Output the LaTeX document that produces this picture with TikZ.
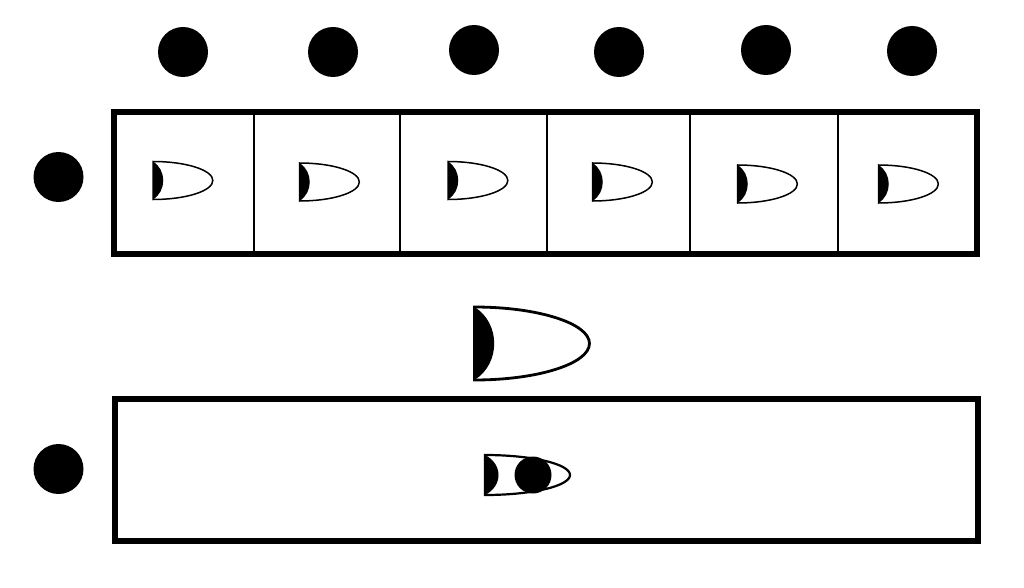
\documentclass[tikz,border=0pt]{standalone}
\begin{document}
\begin{tikzpicture}[x=1pt,y=-1pt,
  dot/.style={circle,fill=black,inner sep=0pt,minimum size=50pt},
  frame/.style={draw=black,line width=5.5pt},
  divider/.style={draw=black,line width=1.5pt},
  bullet/.pic={
    \fill[black] (0,-1) .. controls (0.72,-0.55) and (0.72,0.55) .. (0,1) -- cycle;
    \draw[line join=miter] (0,1) -- (0,-1) arc[start angle=-90,end angle=90,x radius=3.15,y radius=1] -- cycle;
  }]
\useasboundingbox (0,0) rectangle (1024,588);
% top dots
\foreach \x/\y [count=\i] in {183/52,333/52,474/50,619/52,766/50,912/51}
  \node[dot] (t\i) at (\x,\y) {};
\node[dot] (l1) at (58.5,177) {};
\node[dot] (l2) at (58.5,469) {};
% top box
\draw[frame] (114,112) rectangle (977,254);
\foreach \x in {254,400,547,690,838}
  \draw[divider] (\x,112) -- (\x,254);
% small bullets
\foreach \x/\y in {153/180.5,299.5/182,448/180.5,592.5/182,737.5/184,878.5/184}
  \pic[line width=1.5pt,scale=19] at (\x,\y) {bullet};
% big bullet
\pic[line width=2.8pt,scale=36.5] at (474.5,343.5) {bullet};
% bottom box
\draw[frame,line width=6pt] (114.5,398.5) rectangle (978,541);
% bottom bullet with dot
\begin{scope}[shift={(485,475)}]
  \fill[black] (0,-20) .. controls (18,-11) and (18,11) .. (0,20) -- cycle;
  \draw[line width=2.2pt] (0,20) -- (0,-20) arc[start angle=-90,end angle=90,x radius=85,y radius=20] -- cycle;
\end{scope}
\node[circle,fill=black,inner sep=0pt,minimum size=37pt] (c) at (533,475) {};
\end{tikzpicture}
\end{document}
